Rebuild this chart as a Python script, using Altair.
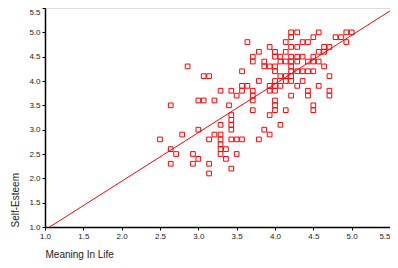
import altair as alt
import pandas as pd

# Meaning In Life (x) and Self-Esteem (y) values
meaning = [
    3.64, 3.93, 3.79, 4.00, 3.71, 4.00, 3.71, 3.86, 2.86, 3.57, 3.86, 3.93, 4.00, 4.00,
    3.07, 3.14, 3.79, 3.57, 3.64, 3.93, 4.00, 3.29, 3.43, 3.57, 3.71, 3.93, 4.00, 3.50,
    3.71, 3.00, 3.07, 3.21, 3.71, 4.00, 2.64, 3.40, 3.71, 4.00, 4.00, 3.43,
    4.21, 4.29, 4.57, 4.93, 5.00, 4.50, 4.79, 4.86, 4.21, 4.14, 4.36, 4.43, 4.93,
    4.21, 4.29, 4.64, 4.71, 4.14, 4.57, 4.64, 4.07, 4.21, 4.29, 4.36, 4.50,
    4.07, 4.14, 4.21, 4.29, 4.43, 4.50, 4.57, 4.21, 4.64, 4.21, 4.29, 4.36, 4.43, 4.50,
    4.07, 4.14, 4.21, 4.71, 4.00, 4.14, 4.21, 4.36, 4.07, 4.29, 4.57, 4.43, 4.71,
    4.21, 4.43, 4.71, 4.50, 4.14, 4.50, 3.93, 4.07,
    3.43, 3.43, 3.29, 3.43, 3.00, 3.86, 2.79, 3.21, 3.29, 3.93, 2.50, 3.14, 3.29, 3.43,
    3.50, 3.57, 3.79, 3.29, 3.29, 3.36, 2.64, 2.71, 2.93, 3.29, 3.50, 3.00, 3.36, 2.64,
    2.93, 3.14, 3.43, 3.14,
]
esteem = [
    4.8, 4.7, 4.6, 4.6, 4.5, 4.5, 4.4, 4.4, 4.3, 4.2, 4.3, 4.3, 4.3, 4.2,
    4.1, 4.1, 4.0, 3.9, 3.9, 3.9, 3.9, 3.8, 3.8, 3.8, 3.8, 3.8, 3.8, 3.7,
    3.7, 3.6, 3.6, 3.6, 3.6, 3.6, 3.5, 3.5, 3.4, 3.5, 3.4, 3.3,
    5.0, 5.0, 5.0, 5.0, 5.0, 4.9, 4.9, 4.9, 4.9, 4.8, 4.8, 4.8, 4.8,
    4.7, 4.7, 4.7, 4.7, 4.6, 4.6, 4.6, 4.5, 4.5, 4.5, 4.5, 4.5,
    4.4, 4.4, 4.4, 4.4, 4.4, 4.4, 4.4, 4.3, 4.3, 4.2, 4.2, 4.2, 4.2, 4.2,
    4.1, 4.1, 4.1, 4.1, 4.0, 4.0, 4.0, 4.0, 3.9, 3.9, 3.9, 3.8, 3.8,
    3.7, 3.7, 3.7, 3.5, 3.4, 3.4, 3.3, 3.1,
    3.2, 3.1, 3.1, 3.0, 3.0, 3.0, 2.9, 2.9, 2.9, 2.9, 2.8, 2.8, 2.8, 2.8,
    2.8, 2.8, 2.8, 2.7, 2.6, 2.6, 2.6, 2.5, 2.5, 2.5, 2.5, 2.4, 2.4, 2.3,
    2.3, 2.3, 2.2, 2.1,
]

# fit line end points
line_x = [1.06, 5.5]
line_y = [1.0, 5.44]

ticks = [1.0, 1.5, 2.0, 2.5, 3.0, 3.5, 4.0, 4.5, 5.0, 5.5]

pts = pd.DataFrame({"Meaning In Life": meaning, "Self-Esteem": esteem})
fit = pd.DataFrame({"Meaning In Life": line_x, "Self-Esteem": line_y})

xs = alt.Scale(domain=[1.0, 5.5], nice=False, zero=False)
ys = alt.Scale(domain=[1.0, 5.5], nice=False, zero=False)

common = dict(values=ticks, format=".1f", grid=False, titleFontWeight="normal",
              titleFontSize=10, labelFontSize=8, tickSize=3, labelPadding=2,
              domainColor="black", tickColor="black", domainWidth=1.5,
              labelFlush=False, labelOverlap=False, labelColor="#222222",
              titleColor="#222222", titleAnchor="start")
xax = alt.Axis(title="Meaning In Life", titlePadding=9,
               labelAlign={"condition": {"test": "datum.value >= 5.5", "value": "right"},
                           "value": "center"},
               **common)
yax = alt.Axis(title="Self-Esteem", titlePadding=8,
               labelBaseline={"condition": {"test": "datum.value >= 5.5", "value": "top"},
                              "value": "middle"},
               **common)

points = alt.Chart(pts).mark_point(
    shape="square", filled=False, color="#ff0000", size=22, strokeWidth=1, opacity=1
).encode(
    x=alt.X("Meaning In Life:Q", scale=xs, axis=xax),
    y=alt.Y("Self-Esteem:Q", scale=ys, axis=yax),
)

line = alt.Chart(fit).mark_line(color="#ff0000", strokeWidth=1).encode(
    x=alt.X("Meaning In Life:Q", scale=xs, axis=xax),
    y=alt.Y("Self-Esteem:Q", scale=ys, axis=yax),
)

chart = alt.layer(points, line).properties(
    width=345, height=219,
    autosize=alt.AutoSizeParams(type="none"),
    padding={"left": 37, "top": 0, "right": 0, "bottom": 33},
).configure_view(
    stroke="black", strokeWidth=1
).configure_axis(
    labelOverlap=False
).configure(
    font="Liberation Sans"
)

chart.save("out.html", embed_options={"renderer": "svg", "actions": False})
